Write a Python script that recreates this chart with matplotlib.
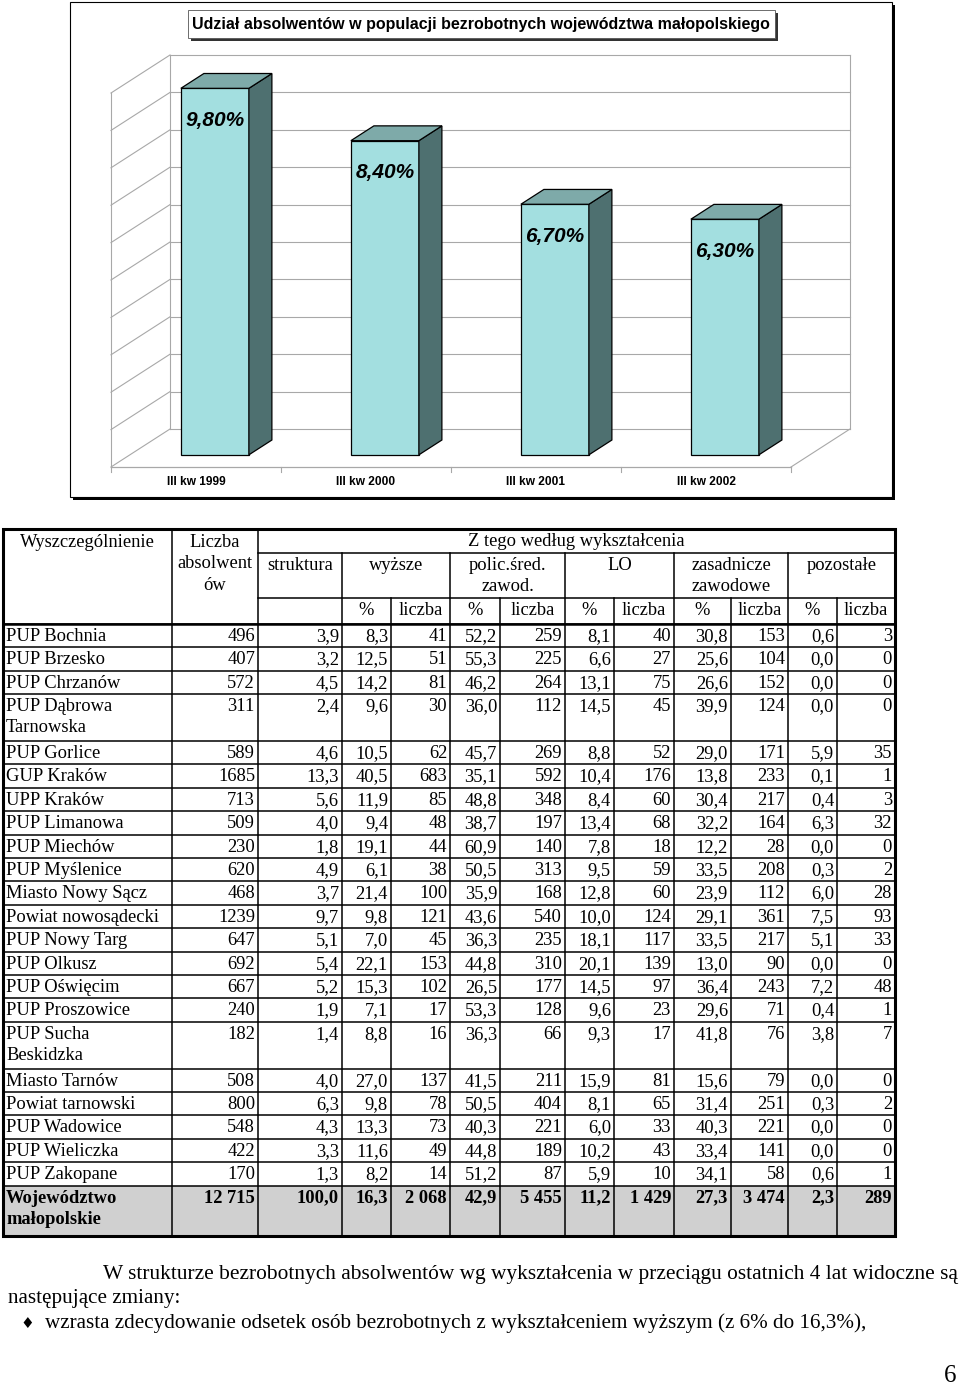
import matplotlib
matplotlib.use('Agg')
import matplotlib.pyplot as plt
from matplotlib.patches import Polygon, Rectangle

#### data ####

quarters = ['III kw 1999', 'III kw 2000', 'III kw 2001', 'III kw 2002']
shares = [9.8, 8.4, 6.7, 6.3]  # % of graduates among the unemployed

units = ['PUP Bochnia', 'PUP Brzesko', 'PUP Chrzanów', 'PUP Dąbrowa\nTarnowska',
         'PUP Gorlice', 'GUP Kraków', 'UPP Kraków', 'PUP Limanowa', 'PUP Miechów',
         'PUP Myślenice', 'Miasto Nowy Sącz', 'Powiat nowosądecki', 'PUP Nowy Targ',
         'PUP Olkusz', 'PUP Oświęcim', 'PUP Proszowice', 'PUP Sucha\nBeskidzka',
         'Miasto Tarnów', 'Powiat tarnowski', 'PUP Wadowice', 'PUP Wieliczka',
         'PUP Zakopane']
graduates = [496, 407, 572, 311, 589, 1685, 713, 509, 230, 620, 468, 1239, 647,
             692, 667, 240, 182, 508, 800, 548, 422, 170]
structure = [3.9, 3.2, 4.5, 2.4, 4.6, 13.3, 5.6, 4.0, 1.8, 4.9, 3.7, 9.7, 5.1,
             5.4, 5.2, 1.9, 1.4, 4.0, 6.3, 4.3, 3.3, 1.3]
higher_pct = [8.3, 12.5, 14.2, 9.6, 10.5, 40.5, 11.9, 9.4, 19.1, 6.1, 21.4, 9.8,
              7.0, 22.1, 15.3, 7.1, 8.8, 27.0, 9.8, 13.3, 11.6, 8.2]
higher_n = [41, 51, 81, 30, 62, 683, 85, 48, 44, 38, 100, 121, 45, 153, 102, 17,
            16, 137, 78, 73, 49, 14]
post_pct = [52.2, 55.3, 46.2, 36.0, 45.7, 35.1, 48.8, 38.7, 60.9, 50.5, 35.9,
            43.6, 36.3, 44.8, 26.5, 53.3, 36.3, 41.5, 50.5, 40.3, 44.8, 51.2]
post_n = [259, 225, 264, 112, 269, 592, 348, 197, 140, 313, 168, 540, 235, 310,
          177, 128, 66, 211, 404, 221, 189, 87]
lo_pct = [8.1, 6.6, 13.1, 14.5, 8.8, 10.4, 8.4, 13.4, 7.8, 9.5, 12.8, 10.0, 18.1,
          20.1, 14.5, 9.6, 9.3, 15.9, 8.1, 6.0, 10.2, 5.9]
lo_n = [40, 27, 75, 45, 52, 176, 60, 68, 18, 59, 60, 124, 117, 139, 97, 23, 17,
        81, 65, 33, 43, 10]
voc_pct = [30.8, 25.6, 26.6, 39.9, 29.0, 13.8, 30.4, 32.2, 12.2, 33.5, 23.9, 29.1,
           33.5, 13.0, 36.4, 29.6, 41.8, 15.6, 31.4, 40.3, 33.4, 34.1]
voc_n = [153, 104, 152, 124, 171, 233, 217, 164, 28, 208, 112, 361, 217, 90, 243,
         71, 76, 79, 251, 221, 141, 58]
other_pct = [0.6, 0.0, 0.0, 0.0, 5.9, 0.1, 0.4, 6.3, 0.0, 0.3, 6.0, 7.5, 5.1, 0.0,
             7.2, 0.4, 3.8, 0.0, 0.3, 0.0, 0.0, 0.6]
other_n = [3, 0, 0, 0, 35, 1, 3, 32, 0, 2, 28, 93, 33, 0, 48, 1, 7, 0, 2, 0, 0, 1]

total_name = 'Województwo\nmałopolskie'
total_values = [12715, 100.0, 16.3, 2068, 42.9, 5455, 11.2, 1429, 27.3, 3474, 2.3, 289]

W, H = 960, 1387
SERIF = ['Liberation Serif', 'DejaVu Serif']

fig = plt.figure(figsize=(W / 100, H / 100), dpi=100)
page = fig.add_axes([0, 0, 1, 1])
page.set_xlim(0, W)
page.set_ylim(H, 0)
page.axis('off')

#### chart frame ####
page.add_patch(Rectangle((73, 5), 822, 495, facecolor='black', edgecolor='none'))
page.add_patch(Rectangle((70, 2), 822, 495, facecolor='white', edgecolor='black', lw=0.8))
page.add_patch(Rectangle((191, 13), 587, 28, facecolor='#333333', edgecolor='none'))
page.add_patch(Rectangle((188, 10), 587, 28, facecolor='white', edgecolor='#555555', lw=0.6))
page.text(481, 24, 'Udział absolwentów w populacji bezrobotnych województwa małopolskiego',
          ha='center', va='center', fontsize=11.5, fontweight='bold',
          family='Liberation Sans')

# chart axes: 1 x-unit = one category, 1 y-unit = 1 percentage point
x0_px, y0_px, ux, uy = 111, 467, 170, 37.4
ax = fig.add_axes([70 / W, 1 - 498 / H, 823 / W, 496 / H])
ax.set_xlim((70 - x0_px) / ux, (893 - x0_px) / ux)
ax.set_ylim((y0_px - 498) / uy, (y0_px - 2) / uy)
ax.axis('off')
ax.patch.set_alpha(0)

DX, DY = 59 / ux, 38 / uy  # depth of the 3D box
grid_c = '#a8a8a8'
n = len(quarters)
vmax = 10
for v in range(vmax + 1):
    ax.plot([DX, n + DX], [v + DY, v + DY], color=grid_c, lw=0.8, zorder=1)
    ax.plot([0, DX], [v, v + DY], color=grid_c, lw=0.8, zorder=1)
ax.plot([0, 0], [0, vmax], color=grid_c, lw=0.8, zorder=1)
ax.plot([DX, DX], [DY, vmax + DY], color=grid_c, lw=0.8, zorder=1)
ax.plot([n + DX, n + DX], [DY, vmax + DY], color=grid_c, lw=0.8, zorder=1)
ax.plot([0, n], [0, 0], color=grid_c, lw=0.9, zorder=1)
ax.plot([n, n + DX], [0, DY], color=grid_c, lw=0.8, zorder=1)
for i in range(n + 1):
    ax.plot([i, i], [0, -5 / uy], color=grid_c, lw=0.8, zorder=1)

front_c, side_c, top_c = '#a3dfe0', '#4e7070', '#7eaaa9'
f, b, bw = 0.32, 0.39, 0.4
xs = [i + 0.5 + f * DX for i in range(n)]
ax.bar(xs, shares, width=bw, bottom=f * DY, color=front_c, edgecolor='black',
       lw=0.9, zorder=3)
for x, v in zip(xs, shares):
    xl, xr, yb, yt = x - bw / 2, x + bw / 2, f * DY, f * DY + v
    ax.add_patch(Polygon([(xr, yb), (xr + b * DX, yb + b * DY),
                          (xr + b * DX, yt + b * DY), (xr, yt)],
                         facecolor=side_c, edgecolor='black', lw=0.9, zorder=3))
    ax.add_patch(Polygon([(xl, yt), (xl + b * DX, yt + b * DY),
                          (xr + b * DX, yt + b * DY), (xr, yt)],
                         facecolor=top_c, edgecolor='black', lw=0.9, zorder=3))
    ax.text(x, yt - 0.86, f'{v:.2f}%'.replace('.', ','), ha='center', va='center',
            fontsize=15, fontweight='bold', fontstyle='italic',
            family='Liberation Sans', zorder=4)
for i, q in enumerate(quarters):
    ax.text(i + 0.5, -15 / uy, q, ha='center', va='center', fontsize=8.6,
            fontweight='bold', family='Liberation Sans')

#### table ####
edges = [3, 172, 258, 342, 391, 450, 500, 565, 614, 674, 731, 788, 837, 895]
top, h1, h2, h3 = 529, 553, 598, 624
row_h = 23.4
fs = 13.3

def txt(x, y, s, ha='center', weight='normal'):
    page.text(x, y - 0.5, s, ha=ha, va='center', fontsize=fs, family=SERIF,
              fontweight=weight)

def fmt(v, total=False):
    if isinstance(v, float):
        return f'{v:.1f}'.replace('.', ',')
    return f'{v:,}'.replace(',', ' ') if total else str(v)

# header text
txt((edges[0] + edges[1]) / 2, 543, 'Wyszczególnienie')
for k, s in enumerate(['Liczba', 'absolwent', 'ów']):
    txt((edges[1] + edges[2]) / 2, 543 + 21.5 * k, s)
txt((edges[2] + edges[-1]) / 2, 542, 'Z tego według wykształcenia')
txt((edges[2] + edges[3]) / 2, 566, 'struktura')
groups = [['wyższe'], ['polic.śred.', 'zawod.'], ['LO'], ['zasadnicze', 'zawodowe'],
          ['pozostałe']]
for g, lines in enumerate(groups):
    cx = (edges[3 + 2 * g] + edges[5 + 2 * g]) / 2
    for k, s in enumerate(lines):
        txt(cx, 566 + 21 * k, s)
    txt((edges[3 + 2 * g] + edges[4 + 2 * g]) / 2, 611, '%')
    txt((edges[4 + 2 * g] + edges[5 + 2 * g]) / 2, 611, 'liczba')

# body
columns = [graduates, structure, higher_pct, higher_n, post_pct, post_n, lo_pct,
           lo_n, voc_pct, voc_n, other_pct, other_n]
y = h3
row_tops = []
for r, name in enumerate(units):
    lines = name.split('\n')
    rh = row_h * len(lines)
    row_tops.append(y)
    for k, s in enumerate(lines):
        txt(edges[0] + 3, y + 13 + 21 * k, s, ha='left')
    for c, col in enumerate(columns):
        txt(edges[c + 2] - 3, y + 13, fmt(col[r]), ha='right')
    y += rh
row_tops.append(y)
total_top, bottom = y, 1236
page.add_patch(Rectangle((edges[0], total_top), edges[-1] - edges[0],
                         bottom - total_top, facecolor='#d0d0d0', edgecolor='none',
                         zorder=0))
for k, s in enumerate(total_name.split('\n')):
    txt(edges[0] + 3, total_top + 13 + 21 * k, s, ha='left', weight='bold')
for c, v in enumerate(total_values):
    txt(edges[c + 2] - 3, total_top + 13, fmt(v, total=True), ha='right', weight='bold')

# grid lines
lw = 1.1
for yy in row_tops:
    page.plot([edges[0], edges[-1]], [yy, yy], color='black', lw=lw)
page.plot([edges[0], edges[-1]], [h3, h3], color='black', lw=1.8)
page.plot([edges[2], edges[-1]], [h1, h1], color='black', lw=lw)
page.plot([edges[2], edges[-1]], [h2, h2], color='black', lw=lw)
for c, xx in enumerate(edges[1:-1], start=1):
    if c <= 2:
        y_start = top
    elif c % 2 == 1:
        y_start = h1
    else:
        y_start = h2
    page.plot([xx, xx], [y_start, bottom], color='black', lw=lw)
page.add_patch(Rectangle((edges[0], top), edges[-1] - edges[0], bottom - top,
                         facecolor='none', edgecolor='black', lw=2.2))

#### text below the table ####
body_fs = 15.2
page.text(103, 1274, 'W strukturze bezrobotnych absolwentów wg wykształcenia w przeciągu '
          'ostatnich 4 lat widoczne są', ha='left', va='center', fontsize=15.4,
          family=SERIF)
page.text(8, 1299, 'następujące zmiany:', ha='left', va='center', fontsize=body_fs,
          family=SERIF)
page.text(27, 1323, '\u2666', ha='center', va='center', fontsize=11,
          family=['DejaVu Sans'])
page.text(45, 1323, 'wzrasta zdecydowanie odsetek osób bezrobotnych z wykształceniem '
          'wyższym (z 6% do 16,3%),', ha='left', va='center', fontsize=body_fs,
          family=SERIF)
page.text(950, 1376, '6', ha='center', va='center', fontsize=18, family=SERIF)

fig.savefig('out.png', dpi=100)
